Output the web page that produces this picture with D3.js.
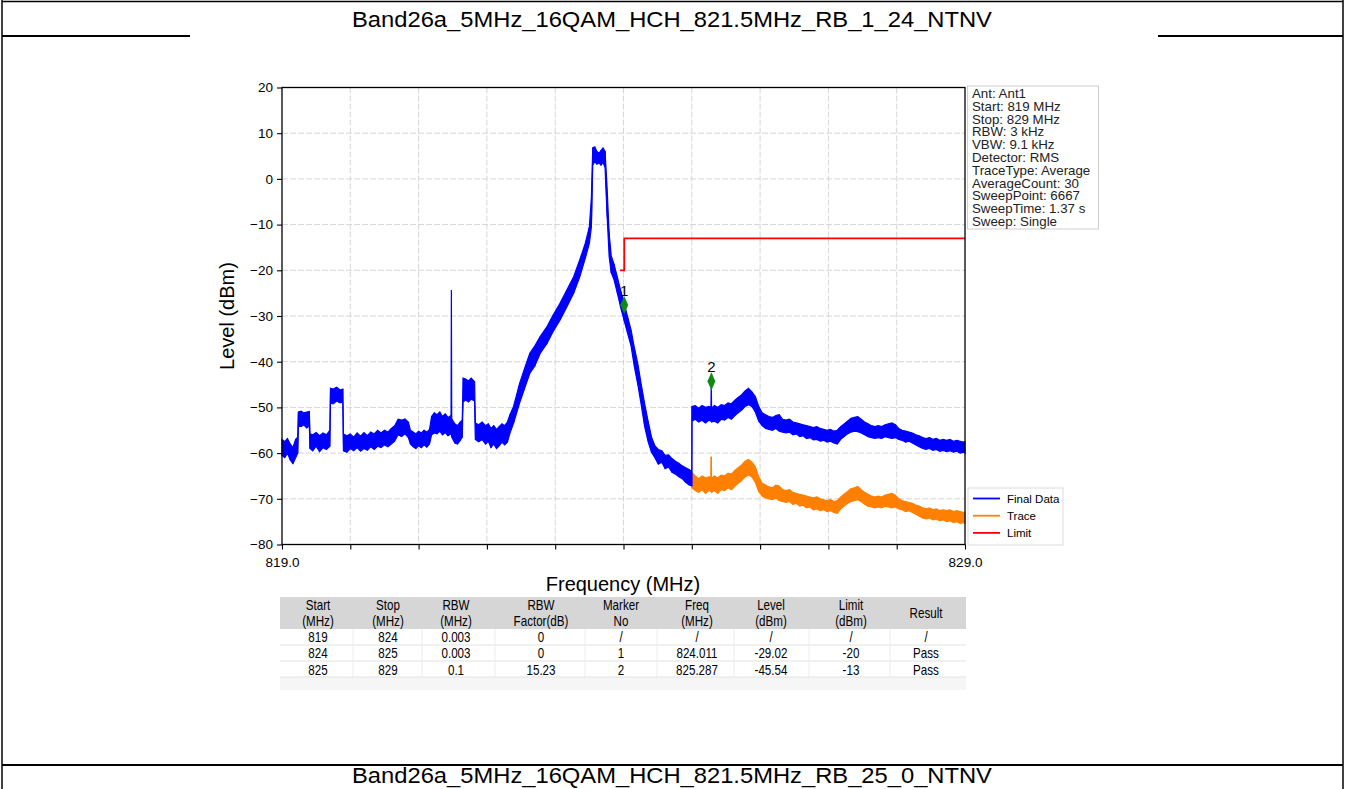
<!DOCTYPE html>
<html><head><meta charset="utf-8">
<script src="https://cdn.jsdelivr.net/npm/d3@7"></script>
<style>html,body{margin:0;padding:0;background:#fff;overflow:hidden}
text{font-family:"Liberation Sans",Arial,sans-serif}</style>
</head><body><svg id="c" width="1345" height="789"></svg>
<script>
// ---------- DATA ----------
const titleTop = "Band26a_5MHz_16QAM_HCH_821.5MHz_RB_1_24_NTNV";
const titleNext = "Band26a_5MHz_16QAM_HCH_821.5MHz_RB_25_0_NTNV";
const xLabel = "Frequency (MHz)";
const yLabel = "Level (dBm)";
const xDomain = [819, 829];
const yDomain = [-80, 20];
const yTicks = [20, 10, 0, -10, -20, -30, -40, -50, -60, -70, -80];
const xTicks = [819, 820, 821, 822, 823, 824, 825, 826, 827, 828, 829];
const xTickLabels = ["819.0", "", "", "", "", "", "", "", "", "", "829.0"];

// Final Data (blue) envelope: frequency, lower and upper level of the noisy trace
const finalFreq = [
 819.00,819.04,819.08,819.12,819.16,819.20,819.23,
 819.24,819.28,819.32,819.36,819.40,
 819.41,819.45,819.50,819.55,819.60,819.65,819.70,
 819.71,819.75,819.80,819.85,819.89,
 819.90,819.95,820.00,820.05,820.10,820.15,820.20,820.25,820.30,820.35,820.40,820.45,820.50,820.55,820.60,820.65,
 820.70,820.75,820.80,820.85,
 820.88,820.92,820.96,821.00,821.04,821.08,821.12,821.16,
 821.19,821.23,821.27,821.31,821.35,821.39,821.43,821.475,
 821.48,
 821.485,821.53,821.57,821.61,821.64,
 821.65,821.69,821.73,821.77,821.82,
 821.83,821.88,821.93,821.98,822.02,822.06,822.10,822.14,822.18,822.22,822.26,822.30,
 822.34,822.39,822.48,822.56,822.63,822.70,822.78,822.88,822.97,823.07,823.17,823.27,823.36,823.44,823.50,823.53,
 823.55,823.58,823.61,823.64,823.67,823.70,823.73,
 823.76,823.79,823.82,823.86,823.91,823.96,824.01,824.06,824.11,824.16,824.21,824.26,824.31,824.36,824.41,824.46,824.51,824.56,824.61,824.66,824.71,824.76,824.81,824.86,824.91,824.96,
 825.00,
 825.003,825.05,825.10,825.15,825.20,825.25,825.28,
 825.285,
 825.29,825.33,825.38,825.43,825.48,825.53,825.58,825.63,825.68,825.73,825.78,825.83,825.88,825.93,825.98,
 826.03,826.08,826.13,826.18,826.23,826.28,826.33,826.38,826.43,826.48,
 826.53,826.58,826.63,826.68,826.73,826.78,826.83,826.88,826.93,826.98,
 827.03,827.08,827.13,827.18,827.23,827.28,827.33,827.38,827.43,827.48,
 827.53,827.58,827.63,827.68,827.73,827.78,827.83,827.88,827.93,827.98,
 828.03,828.08,828.13,828.18,828.23,828.28,828.33,828.38,828.43,828.48,
 828.53,828.58,828.63,828.68,828.73,828.78,828.83,828.88,828.93,828.98,
 829.00];
const finalLow = [
 -60.5,-61.0,-60.0,-61.5,-62.3,-61.0,-60.0,
 -54.0,-54.2,-53.8,-54.5,-54.0,
 -59.0,-59.5,-58.5,-59.7,-58.8,-59.2,-58.5,
 -49.0,-49.2,-48.6,-49.0,-48.8,
 -59.5,-59.8,-59.0,-59.5,-58.8,-59.6,-59.0,-59.4,-58.6,-59.2,-58.5,-58.8,-58.2,-58.6,-58.0,-57.4,
 -56.0,-56.4,-55.8,-56.6,
 -58.0,-58.6,-59.0,-58.4,-58.8,-58.2,-58.7,-58.0,
 -56.0,-55.6,-55.8,-55.2,-56.0,-55.5,-56.2,-55.8,
 -55.5,
 -56.5,-57.8,-58.0,-57.2,-56.5,
 -48.8,-48.4,-48.8,-48.2,-48.6,
 -57.0,-57.5,-57.0,-58.0,-57.4,-58.8,-58.0,-59.0,-58.4,-57.6,-58.2,-57.6,
 -55.5,-53.5,-49.0,-45.5,-42.5,-41.0,-38.2,-36.0,-33.4,-30.9,-28.0,-25.0,-21.4,-17.4,-14.1,-10.5,
 3.0,3.8,3.2,3.5,3.0,3.6,2.5,
 -8.0,-17.0,-20.5,-22.0,-25.0,-28.2,-31.0,-33.8,-36.5,-41.2,-45.0,-49.5,-54.2,-57.5,-59.8,-61.0,-62.4,-62.0,-63.4,-63.0,-64.2,-64.6,-65.2,-65.6,-66.4,-67.0,
 -67.2,
 -53.0,-52.6,-53.2,-52.8,-53.4,-52.8,-53.0,
 -52.8,
 -53.2,-53.0,-53.4,-52.6,-52.8,-52.2,-52.6,-51.8,-51.2,-50.6,-49.8,-49.4,-49.8,-51.0,-53.0,
 -54.0,-54.6,-54.8,-55.0,-54.6,-55.2,-55.4,-55.6,-55.4,-56.0,
 -55.8,-56.4,-56.2,-56.8,-56.6,-57.1,-57.0,-57.4,-57.2,-57.6,
 -57.4,-57.8,-58.0,-57.0,-56.4,-55.8,-55.4,-55.2,-55.3,-55.6,
 -56.0,-56.4,-56.6,-56.8,-56.6,-56.8,-56.4,-56.6,-56.8,-56.6,
 -57.0,-57.2,-57.6,-57.4,-57.8,-58.2,-58.6,-59.0,-59.2,-59.0,
 -59.4,-59.2,-59.6,-59.4,-59.7,-59.5,-59.8,-59.6,-60.0,-59.8,
 -60.0];
const finalHigh = [
 -57.0,-57.5,-56.8,-58.0,-58.8,-57.0,-56.5,
 -51.0,-50.8,-51.2,-51.0,-50.9,
 -55.8,-56.0,-55.5,-56.2,-55.6,-56.0,-55.0,
 -45.8,-46.0,-45.6,-46.2,-46.0,
 -55.8,-56.2,-55.8,-56.5,-55.6,-56.3,-55.5,-56.2,-55.4,-55.8,-55.0,-55.6,-55.0,-55.4,-54.6,-54.0,
 -52.6,-52.8,-52.5,-53.2,
 -55.0,-55.4,-55.8,-55.2,-55.6,-55.0,-55.4,-54.8,
 -52.0,-51.2,-51.6,-51.0,-52.0,-51.4,-52.2,-51.8,
 -24.3,
 -52.5,-53.6,-54.0,-53.2,-52.8,
 -43.6,-43.8,-44.2,-43.6,-44.4,
 -53.4,-53.8,-53.2,-54.0,-53.6,-54.6,-54.0,-54.8,-54.2,-53.6,-54.0,-53.2,
 -51.5,-49.8,-44.7,-41.1,-38.1,-36.6,-34.5,-32.3,-29.8,-27.2,-24.3,-21.4,-17.7,-14.1,-10.5,-4.0,
 6.8,7.0,6.0,5.6,6.2,6.8,6.0,
 -2.0,-12.0,-16.8,-18.6,-21.5,-24.5,-27.2,-30.2,-33.0,-37.0,-40.5,-45.0,-49.2,-53.0,-56.5,-58.4,-59.2,-59.5,-60.5,-60.4,-61.2,-61.8,-62.2,-62.8,-63.2,-63.6,
 -64.0,
 -49.8,-49.6,-50.2,-49.6,-50.0,-49.8,-50.0,
 -44.3,
 -50.2,-49.6,-50.0,-49.4,-49.6,-49.0,-49.2,-48.4,-47.8,-47.2,-46.4,-45.8,-46.6,-47.6,-49.8,
 -51.2,-51.6,-52.0,-52.2,-51.8,-51.6,-52.6,-52.8,-52.6,-53.2,
 -53.4,-53.6,-53.8,-54.0,-54.2,-54.4,-54.2,-54.6,-54.8,-55.0,
 -54.8,-55.2,-55.0,-54.2,-53.6,-53.0,-52.4,-52.2,-52.0,-52.6,
 -53.2,-53.6,-54.0,-54.2,-54.0,-54.2,-53.8,-53.6,-53.4,-53.8,
 -54.6,-55.0,-55.2,-55.4,-55.6,-56.0,-56.2,-56.6,-56.8,-56.6,
 -57.0,-56.8,-57.2,-57.0,-57.2,-57.0,-57.4,-57.2,-57.4,-57.6,
 -57.5];

// Trace (orange) envelope, visible from 825 MHz
const traceFreq = [
 825.00,825.05,825.10,825.15,825.20,825.25,825.28,
 825.285,
 825.29,825.33,825.38,825.43,825.48,825.53,825.58,825.63,825.68,825.73,825.78,825.83,825.88,825.93,825.98,
 826.03,826.08,826.13,826.18,826.23,826.28,826.33,826.38,826.43,826.48,
 826.53,826.58,826.63,826.68,826.73,826.78,826.83,826.88,826.93,826.98,
 827.03,827.08,827.13,827.18,827.23,827.28,827.33,827.38,827.43,827.48,
 827.53,827.58,827.63,827.68,827.73,827.78,827.83,827.88,827.93,827.98,
 828.03,828.08,828.13,828.18,828.23,828.28,828.33,828.38,828.43,828.48,
 828.53,828.58,828.63,828.68,828.73,828.78,828.83,828.88,828.93,828.98,
 829.00];
const traceLow = [
 -67.6,-68.2,-68.6,-68.0,-68.8,-68.2,-68.4,
 -68.2,
 -68.6,-68.2,-68.8,-68.0,-68.2,-67.6,-68.0,-67.2,-66.6,-66.0,-65.2,-64.8,-65.2,-66.4,-68.4,
 -69.4,-69.8,-70.0,-70.2,-69.8,-70.4,-70.6,-70.8,-70.6,-71.2,
 -71.0,-71.6,-71.4,-72.0,-71.8,-72.4,-72.2,-72.6,-72.4,-72.8,
 -72.6,-73.0,-73.2,-72.2,-71.6,-71.0,-70.6,-70.4,-70.2,-70.6,
 -71.2,-71.6,-71.8,-72.0,-71.8,-72.0,-71.6,-71.8,-72.0,-71.8,
 -72.2,-72.4,-72.8,-72.6,-73.0,-73.4,-73.8,-74.2,-74.4,-74.2,
 -74.6,-74.4,-74.8,-74.6,-75.0,-74.8,-75.2,-75.0,-75.4,-75.2,
 -75.4];
const traceHigh = [
 -64.2,-65.0,-65.6,-65.0,-65.4,-65.2,-65.4,
 -60.8,
 -65.6,-65.0,-65.4,-64.8,-65.0,-64.4,-64.6,-63.8,-63.2,-62.6,-61.8,-61.4,-62.0,-63.0,-65.2,
 -66.6,-67.0,-67.4,-67.6,-67.0,-67.2,-68.0,-68.2,-68.0,-68.6,
 -68.8,-69.0,-69.2,-69.4,-69.6,-69.8,-69.6,-70.0,-70.2,-70.4,
 -70.2,-70.6,-70.4,-69.6,-69.0,-68.4,-67.8,-67.6,-67.3,-68.0,
 -68.6,-69.0,-69.4,-69.6,-69.4,-69.6,-69.2,-69.0,-68.8,-69.2,
 -70.0,-70.4,-70.6,-70.8,-71.0,-71.4,-71.6,-72.0,-72.2,-72.0,
 -72.4,-72.2,-72.6,-72.4,-72.6,-72.4,-72.8,-72.6,-72.8,-73.0,
 -72.9];

// Limit (red)
const limitFreq = [823.95, 824.011, 824.011, 829.0];
const limitLevel = [-20, -20, -13, -13];

// Markers (as drawn on the trace)
const markerNo = ["1", "2"];
const markerFreq = [824.011, 825.287];
const markerLevel = [-27.6, -44.3];

// Legend
const legendLabels = ["Final Data", "Trace", "Limit"];
const legendColors = ["#0000ff", "#ff8000", "#ff0000"];

// Info box
const infoLines = ["Ant: Ant1", "Start: 819 MHz", "Stop: 829 MHz", "RBW: 3 kHz", "VBW: 9.1 kHz",
  "Detector: RMS", "TraceType: Average", "AverageCount: 30", "SweepPoint: 6667",
  "SweepTime: 1.37 s", "Sweep: Single"];

// Result table
const tableHeader = [["Start","(MHz)"],["Stop","(MHz)"],["RBW","(MHz)"],["RBW","Factor(dB)"],
  ["Marker","No"],["Freq","(MHz)"],["Level","(dBm)"],["Limit","(dBm)"],["Result"]];
const tableRows = [
  ["819","824","0.003","0","/","/","/","/","/"],
  ["824","825","0.003","0","1","824.011","-29.02","-20","Pass"],
  ["825","829","0.1","15.23","2","825.287","-45.54","-13","Pass"]];

// ---------- DRAW ----------
const svg = d3.select("#c");
const FONT = '"Liberation Sans",Arial,sans-serif';

// page frame
const page = svg.append("g");
page.append("line").attr("x1",2).attr("x2",1343).attr("y1",1.5).attr("y2",1.5).attr("stroke","#000").attr("stroke-width",1.5);
page.append("line").attr("x1",2).attr("x2",2).attr("y1",0).attr("y2",789).attr("stroke","#000").attr("stroke-width",1.5);
page.append("line").attr("x1",1343).attr("x2",1343).attr("y1",0).attr("y2",789).attr("stroke","#000").attr("stroke-width",1.5);
page.append("line").attr("x1",2).attr("x2",190).attr("y1",36).attr("y2",36).attr("stroke","#000").attr("stroke-width",2);
page.append("line").attr("x1",1158).attr("x2",1343).attr("y1",36).attr("y2",36).attr("stroke","#000").attr("stroke-width",2);
page.append("line").attr("x1",2).attr("x2",1343).attr("y1",765).attr("y2",765).attr("stroke","#000").attr("stroke-width",2);
page.append("text").attr("transform","translate(672,27) scale(1.08,1)").attr("text-anchor","middle").attr("font-size",22)
  .attr("font-family",FONT).text(titleTop);
page.append("text").attr("transform","translate(672,783) scale(1.08,1)").attr("text-anchor","middle").attr("font-size",22)
  .attr("font-family",FONT).text(titleNext);

const x = d3.scaleLinear().domain(xDomain).range([282, 965]);
const y = d3.scaleLinear().domain(yDomain).range([544.5, 87.5]);

// grid
const grid = svg.append("g").attr("stroke","#d6d6d6").attr("stroke-width",1).attr("stroke-dasharray","6,2");
grid.selectAll("line.v").data(xTicks.slice(1,-1)).join("line").attr("class","v")
  .attr("x1",d=>x(d)).attr("x2",d=>x(d)).attr("y1",y(20)).attr("y2",y(-80));
grid.selectAll("line.h").data(yTicks.slice(1,-1)).join("line").attr("class","h")
  .attr("x1",x(819)).attr("x2",x(829)).attr("y1",d=>y(d)).attr("y2",d=>y(d));

// series
const finalData = finalFreq.map((f,i)=>({f, lo: finalLow[i], hi: finalHigh[i]}));
const traceData = traceFreq.map((f,i)=>({f, lo: traceLow[i], hi: traceHigh[i]}));
const area = d3.area().x(d=>x(d.f)).y0(d=>y(d.lo)).y1(d=>y(d.hi));
const line = d3.line().x(d=>x(d[0])).y(d=>y(d[1]));
function zigPts(data){ const p=[]; data.forEach((d,i)=>{ p.push([d.f, i%2? d.hi: d.lo]); }); return p; }

svg.append("path").datum(traceData).attr("d",area).attr("fill",legendColors[1]).attr("stroke",legendColors[1]).attr("stroke-width",1.2);
svg.append("path").datum(zigPts(traceData)).attr("d",line).attr("fill","none").attr("stroke",legendColors[1]).attr("stroke-width",1);
svg.append("path").datum(finalData).attr("d",area).attr("fill",legendColors[0]).attr("stroke",legendColors[0]).attr("stroke-width",1.2);
svg.append("path").datum(zigPts(finalData)).attr("d",line).attr("fill","none").attr("stroke",legendColors[0]).attr("stroke-width",1);

// limit
svg.append("path").datum(limitFreq.map((f,i)=>[f,limitLevel[i]])).attr("d",line)
  .attr("fill","none").attr("stroke",legendColors[2]).attr("stroke-width",1.8);

// markers
const mk = svg.append("g");
mk.selectAll("path").data(markerFreq).join("path")
  .attr("transform",(d,i)=>`translate(${x(d)},${y(markerLevel[i])}) scale(0.75,1)`)
  .attr("d", d3.symbol().type(d3.symbolDiamond).size(95)).attr("fill","#118a11");
mk.selectAll("text").data(markerFreq).join("text")
  .attr("x",d=>x(d)).attr("y",(d,i)=>y(markerLevel[i])-9).attr("text-anchor","middle")
  .attr("font-size",15).attr("font-family",FONT).text((d,i)=>markerNo[i]);

// frame
svg.append("rect").attr("x",x(819)).attr("y",y(20)).attr("width",x(829)-x(819)).attr("height",y(-80)-y(20))
  .attr("fill","none").attr("stroke","#000").attr("stroke-width",1.3);

// axes
const yAxis = svg.append("g").attr("transform",`translate(${x(819)},0)`)
  .call(d3.axisLeft(y).tickValues(yTicks).tickSize(5).tickPadding(4).tickFormat(d=> d<0 ? "\u2212"+Math.abs(d) : String(d)));
const xAxis = svg.append("g").attr("transform",`translate(0,${y(-80)})`)
  .call(d3.axisBottom(x).tickValues(xTicks).tickSize(5).tickPadding(8).tickFormat((d,i)=>xTickLabels[i]));
[yAxis,xAxis].forEach(a=>{a.select(".domain").remove(); a.selectAll("text").attr("font-size",13.5).attr("font-family",FONT).attr("fill","#000");
  a.selectAll("line").attr("stroke","#000").attr("stroke-width",1.1);});

svg.append("text").attr("x",623).attr("y",591).attr("text-anchor","middle").attr("font-size",20).attr("font-family",FONT).text(xLabel);
svg.append("text").attr("transform","translate(234,316) rotate(-90)").attr("text-anchor","middle").attr("font-size",20).attr("font-family",FONT).text(yLabel);

// info box
const ib = svg.append("g");
ib.append("rect").attr("x",967.5).attr("y",86).attr("width",131).attr("height",143).attr("fill","#fff").attr("stroke","#cfcfcf").attr("stroke-width",1);
ib.selectAll("text").data(infoLines).join("text").attr("x",972).attr("y",(d,i)=>98+i*12.8)
  .attr("font-size",13.3).attr("font-family",FONT).attr("fill","#222").text(d=>d);

// legend
const lg = svg.append("g");
lg.append("rect").attr("x",968).attr("y",488).attr("width",95).attr("height",57).attr("fill","#fff").attr("stroke","#dcdcdc");
legendLabels.forEach((t,i)=>{
  const yy = 498.5 + i*17.2;
  lg.append("line").attr("x1",973).attr("x2",1000).attr("y1",yy).attr("y2",yy).attr("stroke",legendColors[i]).attr("stroke-width",1.8);
  lg.append("text").attr("x",1007).attr("y",yy+4).attr("font-size",11.5).attr("font-family",FONT).text(t);
});

// table (condensed text)
const colX = [318, 388, 456, 541, 621, 697, 771, 851, 926];
const colEdge = [280, 353, 422, 495, 585, 657, 734, 809, 890, 966];
const tb = svg.append("g");
tb.append("rect").attr("x",280).attr("y",627).attr("width",686).attr("height",63).attr("fill","#f6f6f6");
tb.append("rect").attr("x",280).attr("y",597).attr("width",686).attr("height",32).attr("fill","#d6d6d6");
tb.append("rect").attr("x",280).attr("y",629).attr("width",686).attr("height",48).attr("fill","#fff");
[645,661,677].forEach(yy=>tb.append("line").attr("x1",280).attr("x2",966).attr("y1",yy).attr("y2",yy).attr("stroke","#e2e2e2"));
colEdge.slice(1,-1).forEach(xx=>tb.append("line").attr("x1",xx).attr("x2",xx).attr("y1",629).attr("y2",677).attr("stroke","#ececec"));
function ctext(g, cx, cy, t){
  g.append("text").attr("transform",`translate(${cx},${cy}) scale(0.8,1)`).attr("text-anchor","middle")
    .attr("font-size",14.5).attr("font-family",FONT).text(t);
}
tableHeader.forEach((h,c)=>{
  h.forEach((t,k)=>{ ctext(tb, colX[c], h.length===1 ? 618 : 610 + k*15.5, t); });
});
tableRows.forEach((r,ri)=>{
  r.forEach((t,c)=>{ ctext(tb, colX[c], 642+ri*16.3, t); });
});
</script></body></html>
